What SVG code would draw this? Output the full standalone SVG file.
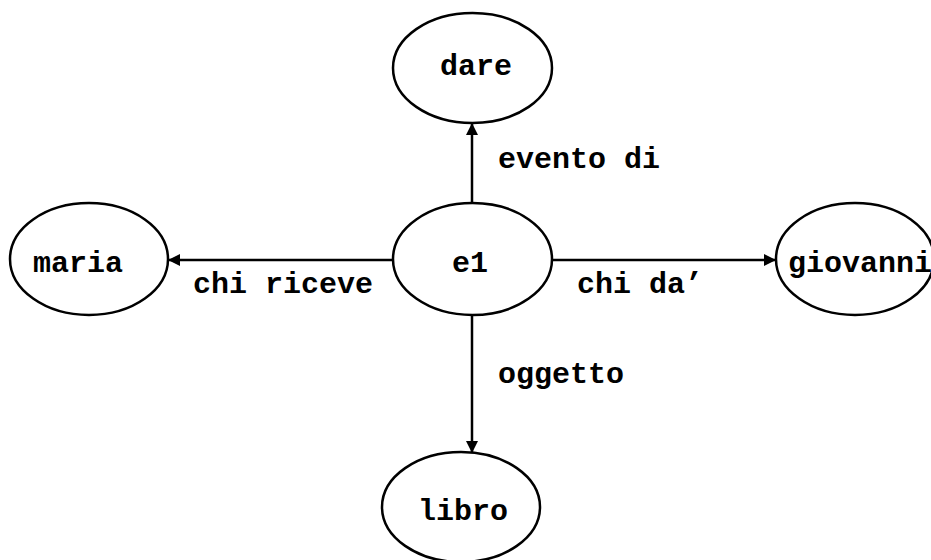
<svg xmlns="http://www.w3.org/2000/svg" width="931" height="560" viewBox="0 0 931 560">
<style>
.node{fill:#fff;stroke:#000;stroke-width:2.5}
.t{font-family:"Liberation Mono","Courier New",monospace;font-weight:bold;font-size:30px;fill:#000}
.edge{stroke:#000;stroke-width:2.5;fill:none;marker-end:url(#arr)}
</style>
<defs>
<marker id="arr" markerWidth="12" markerHeight="12" refX="11" refY="6" orient="auto" markerUnits="userSpaceOnUse">
<path d="M0,0 L12,6 L0,12 Z" fill="#000"/>
</marker>
</defs>
<rect width="931" height="560" fill="#fff"/>
<g id="connectors">
<line class="edge" x1="472" y1="203" x2="472" y2="124"/>
<line class="edge" x1="393" y1="260" x2="169" y2="260"/>
<line class="edge" x1="552" y1="260" x2="775" y2="260"/>
<line class="edge" x1="472" y1="315" x2="472" y2="452"/>
<text class="t" x="498" y="168">evento di</text>
<text class="t" x="193" y="293">chi riceve</text>
<text class="t" x="577" y="293">chi da’</text>
<text class="t" x="498" y="383">oggetto</text>
</g>
<g id="dare"><ellipse class="node" cx="472.5" cy="68" rx="79.5" ry="55"/><text class="t" x="476" y="75" text-anchor="middle">dare</text></g>
<g id="e1"><ellipse class="node" cx="472.5" cy="259" rx="79.5" ry="56"/><text class="t" x="470" y="272" text-anchor="middle">e1</text></g>
<g id="maria"><ellipse class="node" cx="89" cy="259" rx="79" ry="56"/><text class="t" x="78" y="272" text-anchor="middle">maria</text></g>
<g id="giovanni"><ellipse class="node" cx="855" cy="259" rx="79" ry="56"/><text class="t" x="788" y="272">giovanni</text></g>
<g id="libro"><ellipse class="node" cx="461" cy="507" rx="79" ry="55"/><text class="t" x="463" y="520" text-anchor="middle">libro</text></g>
</svg>
